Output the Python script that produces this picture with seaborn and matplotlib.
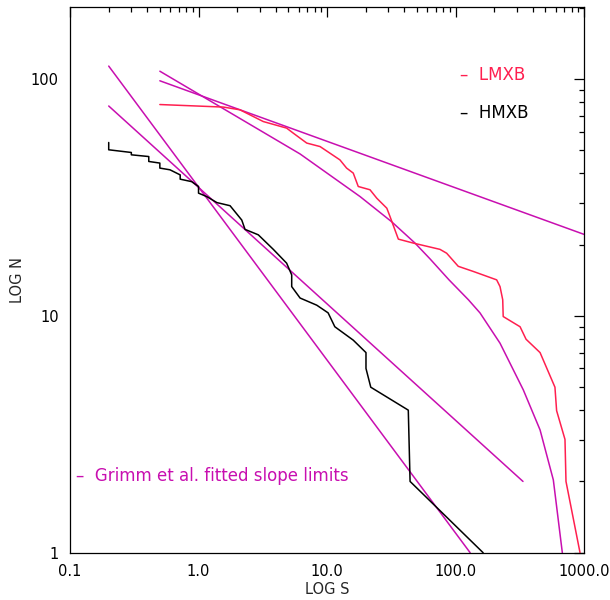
import numpy as np
import pandas as pd
import matplotlib
matplotlib.use("Agg")
import matplotlib.pyplot as plt
import seaborn as sns
from matplotlib.ticker import FixedLocator, FixedFormatter, NullFormatter

# HMXB cumulative counts (step curve)
hmxb_s = [0.2, 0.2, 0.30, 0.30, 0.41, 0.41, 0.5, 0.5, 0.60, 0.72, 0.72, 0.885, 1.0, 1.0,
          1.16, 1.39, 1.76, 2.17, 2.30, 2.92, 3.82, 4.85, 5.31, 5.31, 6.17, 8.32,
          10.2, 11.5, 16.0, 20.1, 20.1, 21.9, 42.9, 44.3, 164.0]
hmxb_n = [54.0, 50.3, 49.0, 47.9, 47.1, 44.9, 44.2, 42.1, 41.4, 39.4, 37.8, 36.9, 35.2, 33.0,
          31.9, 30.1, 29.2, 25.4, 23.2, 22.0, 19.1, 16.7, 14.9, 13.3, 11.9, 11.1,
          10.3, 9.0, 7.9, 7.0, 6.0, 5.0, 4.0, 2.0, 1.0]

# LMXB cumulative counts
lmxb_s = [0.5, 1.56, 2.10, 2.67, 3.19, 4.85, 5.47, 6.95, 8.83, 12.6, 14.2, 16.0, 17.5,
          21.6, 24.4, 29.2, 30.9, 35.9, 47.0, 75.7, 85.3, 105.0, 138.0, 209.0, 222.0,
          233.0, 235.0, 318.0, 354.0, 455.0, 594.0, 612.0, 711.0, 724.0, 931.0]
lmxb_n = [78.1, 76.2, 74.2, 69.5, 66.2, 62.1, 59.1, 53.7, 51.9, 45.6, 42.1, 40.1, 35.2,
          34.1, 31.4, 28.5, 26.3, 21.1, 20.3, 19.1, 18.4, 16.2, 15.4, 14.2, 13.3,
          11.7, 9.94, 9.0, 7.97, 7.0, 5.0, 3.98, 3.01, 2.0, 1.0]

# Grimm et al. fitted slope limits
hm_steep_s = [0.2, 130.0]
hm_steep_n = [113.5, 1.0]
hm_flat_s = [0.2, 335.0]
hm_flat_n = [77.0, 2.0]
lm_flat_s = [0.5, 1000.0]
lm_flat_n = [98.4, 22.1]
lm_cut_s = [0.5, 6.17, 18.1, 31.8, 48.4, 63.4, 89.0, 126.0, 155.0, 222.0, 337.0, 455.0, 577.0, 678.0]
lm_cut_n = [108.0, 48.3, 31.9, 25.0, 20.3, 17.4, 14.2, 11.7, 10.3, 7.67, 4.87, 3.30, 2.03, 1.0]

RED = "#ff1f4f"
MAG = "#c80fb0"

sns.set_style("white")
plt.rcParams["font.family"] = ["DejaVu Sans"]

fig = plt.figure(figsize=(6.1, 6.0), dpi=100)
ax = fig.add_axes([0.1148, 0.0788, 0.8426, 0.9090])

kw = dict(sort=False, estimator=None, lw=1.1, ax=ax, legend=False)
for xs, ys in [(hm_steep_s, hm_steep_n), (hm_flat_s, hm_flat_n),
               (lm_flat_s, lm_flat_n), (lm_cut_s, lm_cut_n)]:
    sns.lineplot(x=xs, y=ys, color=MAG, **kw)
sns.lineplot(x=lmxb_s, y=lmxb_n, color=RED, **kw)
sns.lineplot(x=hmxb_s, y=hmxb_n, color="black", **kw)

ax.set_xscale("log")
ax.set_yscale("log")
ax.set_xlim(0.1, 1000)
ax.set_ylim(1, 201)

ax.xaxis.set_major_locator(FixedLocator([0.1, 1, 10, 100, 1000]))
ax.xaxis.set_major_formatter(FixedFormatter(["0.1", "1.0", "10.0", "100.0", "1000.0"]))
ax.yaxis.set_major_locator(FixedLocator([1, 10, 100]))
ax.yaxis.set_major_formatter(FixedFormatter(["1", "10", "100"]))
ax.xaxis.set_minor_formatter(NullFormatter())
ax.yaxis.set_minor_formatter(NullFormatter())

ax.tick_params(which="both", direction="in", top=True, right=True, colors="black",
               labelsize=10.5, width=0.9)
ax.tick_params(which="major", length=7.5, pad=8)
ax.tick_params(which="minor", length=3.8)
for sp in ax.spines.values():
    sp.set_color("black")
    sp.set_linewidth(0.9)

ax.set_xlabel("LOG S", fontsize=10.5, labelpad=2)
ax.set_ylabel("LOG N", fontsize=10.5, labelpad=4)

ax.text(0.758, 0.875, "\u2013  LMXB", color=RED, fontsize=12, transform=ax.transAxes, va="center")
ax.text(0.758, 0.807, "\u2013  HMXB", color="black", fontsize=12, transform=ax.transAxes, va="center")
ax.text(0.012, 0.140, "\u2013  Grimm et al. fitted slope limits", color=MAG, fontsize=12,
        transform=ax.transAxes, va="center")

fig.savefig("out.png", dpi=100)
